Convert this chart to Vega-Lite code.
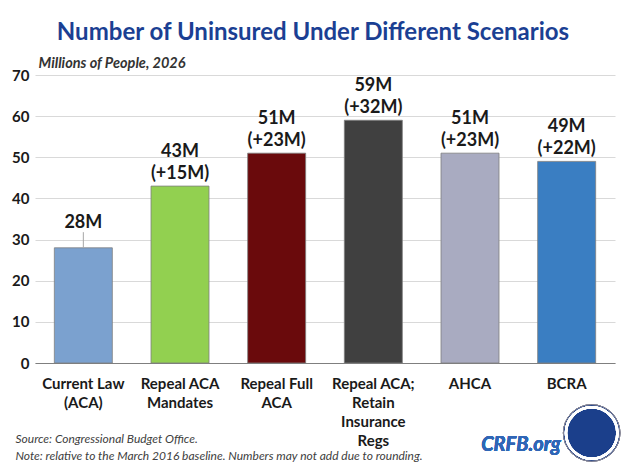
{
  "$schema": "https://vega.github.io/schema/vega-lite/v6.json",
  "width": 580,
  "height": 288,
  "autosize": {"type": "none"},
  "padding": {"left": 35, "top": 75, "right": 9, "bottom": 105},
  "background": "white",
  "title": {
    "text": "Number of Uninsured Under Different Scenarios",
    "font": "Lato",
    "fontSize": 24,
    "fontWeight": "bold",
    "color": "#1B3F93",
    "anchor": "middle",
    "dx": -12,
    "offset": 10
  },
  "config": {
    "font": "Lato",
    "view": {"stroke": null},
    "text": {"lineBreak": "\n"}
  },
  "data": {
    "values": [
      {"scenario": "Current Law (ACA)", "value": 28, "label": "28M"},
      {"scenario": "Repeal ACA Mandates", "value": 43, "label": "43M\n(+15M)"},
      {"scenario": "Repeal Full ACA", "value": 51, "label": "51M\n(+23M)"},
      {"scenario": "Repeal ACA; Retain Insurance Regs", "value": 59, "label": "59M\n(+32M)"},
      {"scenario": "AHCA", "value": 51, "label": "51M\n(+23M)"},
      {"scenario": "BCRA", "value": 49, "label": "49M\n(+22M)"}
    ]
  },
  "encoding": {
    "x": {
      "field": "scenario",
      "type": "nominal",
      "sort": null,
      "scale": {"paddingInner": 0.4, "paddingOuter": 0.2},
      "axis": {
        "labelAngle": 0,
        "labelFont": "Lato",
        "labelFontSize": 15,
        "labelFontWeight": "bold",
        "labelColor": "#1a1a1a",
        "labelPadding": 13,
        "labelLineHeight": 19,
        "labelExpr": "datum.value == 'Current Law (ACA)' ? ['Current Law', '(ACA)'] : datum.value == 'Repeal ACA Mandates' ? ['Repeal ACA', 'Mandates'] : datum.value == 'Repeal Full ACA' ? ['Repeal Full', 'ACA'] : datum.value == 'Repeal ACA; Retain Insurance Regs' ? ['Repeal ACA;', 'Retain', 'Insurance', 'Regs'] : datum.value",
        "ticks": false,
        "domainColor": "#7f7f7f",
        "domainWidth": 1.2,
        "title": ["Source: Congressional Budget Office.", "Note: relative to the March 2016 baseline. Numbers may not add due to rounding."],
        "titleFont": "Lato",
        "titleFontSize": 12,
        "titleFontStyle": "italic",
        "titleFontWeight": "normal",
        "titleColor": "#404040",
        "titleAnchor": "start",
        "titleAlign": "left",
        "titleBaseline": "top",
        "titleX": -20,
        "titleY": 70,
        "titleLineHeight": 17
      }
    },
    "y": {
      "field": "value",
      "type": "quantitative",
      "scale": {"domain": [0, 70], "nice": false},
      "axis": {
        "values": [0, 10, 20, 30, 40, 50, 60, 70],
        "labelFont": "Lato",
        "labelFontSize": 15,
        "labelFontWeight": "bold",
        "labelColor": "#1a1a1a",
        "labelPadding": 6,
        "ticks": false,
        "domain": false,
        "grid": true,
        "gridColor": "#D9D9D9",
        "gridWidth": 1,
        "title": "Millions of People, 2026",
        "titleFont": "Lato",
        "titleFontSize": 14.5,
        "titleFontStyle": "italic",
        "titleFontWeight": "bold",
        "titleColor": "#333333",
        "titleAngle": 0,
        "titleAlign": "left",
        "titleBaseline": "middle",
        "titleX": 3,
        "titleY": -12
      }
    }
  },
  "layer": [
    {
      "mark": {"type": "bar", "stroke": "#7f7f7f", "strokeWidth": 0.8},
      "encoding": {
        "color": {
          "field": "scenario",
          "type": "nominal",
          "sort": null,
          "scale": {
            "domain": ["Current Law (ACA)", "Repeal ACA Mandates", "Repeal Full ACA", "Repeal ACA; Retain Insurance Regs", "AHCA", "BCRA"],
            "range": ["#7BA1CF", "#92D050", "#6A0A0C", "#404040", "#A9ABC1", "#3A7EC2"]
          },
          "legend": null
        }
      }
    },
    {
      "transform": [{"filter": "datum.scenario != 'Current Law (ACA)'"}],
      "mark": {"type": "text", "baseline": "alphabetic", "dy": -29, "fontSize": 18, "fontWeight": "bold", "color": "#1a1a1a", "lineHeight": 22},
      "encoding": {"text": {"field": "label"}}
    },
    {
      "transform": [{"filter": "datum.scenario == 'Current Law (ACA)'"}],
      "mark": {"type": "text", "baseline": "alphabetic", "dy": -20, "fontSize": 18, "fontWeight": "bold", "color": "#1a1a1a"},
      "encoding": {"text": {"field": "label"}}
    },
    {
      "transform": [{"filter": "datum.scenario == 'Current Law (ACA)'"}],
      "mark": {"type": "rule", "color": "#A6A6A6", "strokeWidth": 1},
      "encoding": {"y2": {"datum": 31.8}}
    },
    {
      "mark": {"type": "point", "filled": true, "color": "#1B3F8B", "stroke": "#8a8a9a", "strokeWidth": 1, "size": 3200, "opacity": 1, "xOffset": 25},
      "encoding": {"x": {"datum": "BCRA"}, "y": {"datum": -17}}
    },
    {
      "mark": {"type": "point", "filled": false, "stroke": "white", "strokeWidth": 2.5, "size": 2650, "opacity": 1, "xOffset": 25},
      "encoding": {"x": {"datum": "BCRA"}, "y": {"datum": -17}}
    },
    {
      "mark": {"type": "text", "text": "CRFB.org", "fontSize": 20, "fontWeight": "bold", "fontStyle": "italic", "color": "#2F66B6", "xOffset": 51},
      "encoding": {"x": {"datum": "AHCA"}, "y": {"datum": -20}}
    }
  ]
}
